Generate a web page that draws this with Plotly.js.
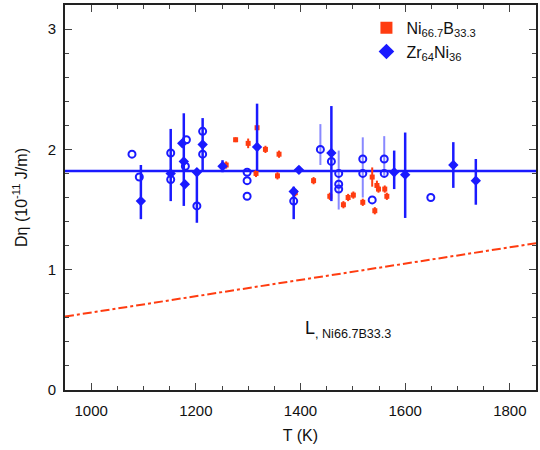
<!DOCTYPE html>
<html><head><meta charset="utf-8">
<script src="https://cdn.plot.ly/plotly-3.0.1.min.js"></script>
<style>html,body{margin:0;padding:0;background:#fff}</style>
</head><body><div id="c" style="width:540px;height:450px"></div>
<script>
// Zr64Ni36 filled symbols (with error bars)
const zrX  = [1095,1152,1177,1179,1174,1202,1213,1251,1317,1397,1387,1459,1579,1600,1692,1735];
const zrY  = [1.57,1.80,1.90,1.71,2.05,1.81,2.04,1.86,2.02,1.83,1.65,1.97,1.81,1.79,1.87,1.74];
const zrEp = [0.30,0.37,0.40,0.00,0.00,0.03,0.22,0.05,0.36,0.03,0.04,0.39,0.18,0.35,0.19,0.18];
const zrEm = [0.15,0.23,0.37,0.00,0.00,0.42,0.22,0.05,0.20,0.03,0.23,0.40,0.14,0.36,0.19,0.20];
// Zr64Ni36 open symbols
const zoX  = [1078,1092,1152,1152,1182,1180,1202,1213,1213,1298,1298,1298,1387,1438,1459,1473,1473,1473,1519,1519,1537,1560,1560,1649];
const zoY  = [1.96,1.77,1.97,1.75,2.08,1.86,1.53,2.15,1.96,1.81,1.74,1.61,1.57,2.00,1.90,1.80,1.71,1.67,1.92,1.80,1.58,1.92,1.80,1.60];
const zoEp = [0,0,0,0,0,0,0,0,0,0,0,0,0,0.21,0,0.19,0,0,0.18,0,0,0.19,0,0];
const zoEm = [0,0,0,0,0,0,0,0,0,0,0,0,0,0.13,0,0.30,0,0,0.32,0,0,0.14,0,0];
// Ni66.7B33.3
const niX  = [1258,1276,1300,1317,1315,1333,1359,1356,1390,1425,1456,1482,1491,1501,1519,1542,1537,1546,1549,1561,1565];
const niY  = [1.87,2.08,2.05,2.18,1.80,2.00,1.96,1.78,1.64,1.74,1.61,1.54,1.60,1.62,1.56,1.49,1.77,1.70,1.67,1.67,1.61];
const niE  = [0.03,0.02,0.04,0.03,0.03,0.03,0.03,0.03,0.03,0.03,0.03,0.03,0.03,0.03,0.03,0.03,0.08,0.04,0.03,0.03,0.03];
// reference lines
const avgX = [950,1850], avgY = [1.82,1.82];
const seX  = [950,1850], seY  = [0.61,1.22];
const xTicks = [1000,1200,1400,1600,1800];
const yTicks = [0,1,2,3];

const blue = '#1a1aff', red = '#ff3c10';
const data = [
  {x:avgX,y:avgY,mode:'lines',line:{color:blue,width:2.5},showlegend:false,hoverinfo:'skip'},
  {x:seX,y:seY,mode:'lines',line:{color:red,width:2,dash:'dashdot'},showlegend:false,hoverinfo:'skip'},
  {x:zoX,y:zoY,mode:'markers',type:'scatter',showlegend:false,
   marker:{symbol:'circle-open',size:7,color:blue,line:{width:2,color:blue}},
   error_y:{type:'data',symmetric:false,array:zoEp,arrayminus:zoEm,color:'rgba(40,40,255,0.55)',thickness:2,width:0}},
  {x:niX,y:niY,mode:'markers',type:'scatter',name:'Ni<sub>66.7</sub>B<sub>33.3</sub>',
   marker:{symbol:'square',size:5,color:red},
   error_y:{type:'data',array:niE,color:red,thickness:2,width:0}},
  {x:zrX,y:zrY,mode:'markers',type:'scatter',name:'Zr<sub>64</sub>Ni<sub>36</sub>',
   marker:{symbol:'diamond',size:8,color:blue},
   error_y:{type:'data',symmetric:false,array:zrEp,arrayminus:zrEm,color:blue,thickness:2.5,width:0}}
];
const layout = {
  width:540,height:450,
  margin:{l:65,r:4,t:5,b:60},
  paper_bgcolor:'#fff',plot_bgcolor:'#fff',
  font:{family:'Liberation Sans, Arial, sans-serif',size:15,color:'#111'},
  xaxis:{range:[950,1850],tickvals:xTicks,ticktext:xTicks.map(String),ticks:'inside',ticklen:7,
    showline:true,linecolor:'#222',linewidth:2,mirror:'ticks',showgrid:false,zeroline:false,
    ticklabelstandoff:6,
    minor:{dtick:50,ticks:'inside',ticklen:4,tickcolor:'#444'},
    title:{text:'T (K)',font:{size:16},standoff:12}},
  yaxis:{range:[0,3.2],tickvals:yTicks,ticktext:yTicks.map(String),ticks:'inside',ticklen:7,
    showline:true,linecolor:'#222',linewidth:2,mirror:'ticks',showgrid:false,zeroline:false,
    ticklabelstandoff:4,
    minor:{dtick:0.2,ticks:'inside',ticklen:4,tickcolor:'#444'},
    title:{text:'Dη (10<sup>-11</sup> J/m)',font:{size:16},standoff:16}},
  legend:{x:0.64,y:0.985,xanchor:'left',yanchor:'top',bgcolor:'rgba(0,0,0,0)',font:{size:16},tracegroupgap:0,itemsizing:'constant'},
  annotations:[{x:1490,y:0.5,xref:'x',yref:'y',showarrow:false,xanchor:'center',
    text:'L<sub>, Ni66.7B33.3</sub>',font:{size:18,color:'#111'}}]
};
Plotly.newPlot('c',data,layout,{staticPlot:true});
</script></body></html>
